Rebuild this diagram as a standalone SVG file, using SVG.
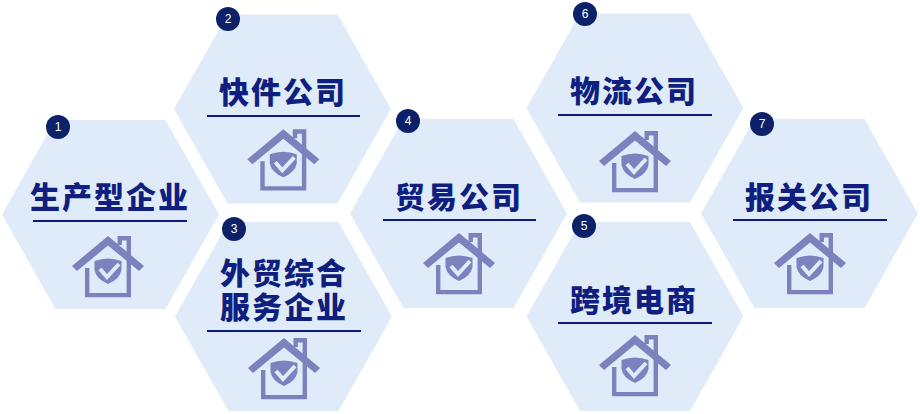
<svg xmlns="http://www.w3.org/2000/svg" xmlns:xlink="http://www.w3.org/1999/xlink" width="920" height="414" viewBox="0 0 920 414">
<style>
.hex{fill:#dfebf8}
.t{font-family:"Noto Sans CJK SC","Liberation Sans",sans-serif;font-weight:900;font-size:30px;letter-spacing:2px;fill:#0f1f80;text-anchor:middle}
.rule{stroke:#0c1a7a;stroke-width:2}
.b{fill:#0d2169}
.n{font-family:"Liberation Sans",sans-serif;font-size:12px;fill:#fff;text-anchor:middle}
.h{fill:#7b82bd}
.hs{fill:none;stroke:#7b82bd;stroke-width:4.400}
.c{fill:none;stroke:#dfebf8;stroke-width:4}
</style>
<defs>
<polygon id="hexagon" class="hex" points="-108.500,0 -55,-94.500 55,-94.500 108.500,0 55,94.500 -55,94.500"/>
<g id="house">
<polygon class="h" points="0,0 36,30 31,35 0,9.500 -31,35 -36,30"/>
<path class="hs" d="M-20.800,32V59.100H20.800V2.200H11.700V9"/>
<path class="h" d="M-13.500,25Q0,20 13.500,25V34Q12,43 0,48Q-12,43 -13.500,34Z"/>
<path class="c" d="M-8,33L-1,41L11,28"/>
</g>
</defs>
<g id="node1"><use xlink:href="#hexagon" x="110.500" y="214.500"/><text class="t" x="110" y="208">生产型企业</text><line class="rule" x1="33" y1="221" x2="187" y2="221"/><use xlink:href="#house" x="108" y="236"/><circle class="b" cx="58" cy="127" r="12"/><text class="n" x="58" y="131">1</text></g>
<g id="node2"><use xlink:href="#hexagon" x="282.500" y="109"/><text class="t" x="283" y="103">快件公司</text><line class="rule" x1="207" y1="116" x2="360" y2="116"/><use xlink:href="#house" x="283.300" y="129.300"/><circle class="b" cx="228" cy="19" r="12"/><text class="n" x="228" y="23">2</text></g>
<g id="node3"><use xlink:href="#hexagon" x="283.500" y="316.500"/><text class="t" x="284" y="284">外贸综合</text><text class="t" x="284" y="318">服务企业</text><line class="rule" x1="207" y1="331" x2="361" y2="331"/><use xlink:href="#house" x="284" y="338"/><circle class="b" cx="234" cy="229" r="12"/><text class="n" x="234" y="233">3</text></g>
<g id="node4"><use xlink:href="#hexagon" x="458.500" y="213.500"/><text class="t" x="459" y="208">贸易公司</text><line class="rule" x1="383" y1="220" x2="536" y2="220"/><use xlink:href="#house" x="459" y="233"/><circle class="b" cx="408" cy="121" r="12"/><text class="n" x="408" y="125">4</text></g>
<g id="node5"><use xlink:href="#hexagon" x="635" y="316.500"/><text class="t" x="634" y="311">跨境电商</text><line class="rule" x1="558" y1="323" x2="712" y2="323"/><use xlink:href="#house" x="635" y="335"/><circle class="b" cx="584" cy="226" r="12"/><text class="n" x="584" y="230">5</text></g>
<g id="node6"><use xlink:href="#hexagon" x="635" y="108"/><text class="t" x="634" y="102">物流公司</text><line class="rule" x1="558" y1="115" x2="712" y2="115"/><use xlink:href="#house" x="635" y="131"/><circle class="b" cx="585" cy="14" r="12"/><text class="n" x="585" y="18">6</text></g>
<g id="node7"><use xlink:href="#hexagon" x="809.500" y="213.500"/><text class="t" x="809" y="208">报关公司</text><line class="rule" x1="733" y1="220" x2="887" y2="220"/><use xlink:href="#house" x="810" y="233"/><circle class="b" cx="762" cy="124" r="12"/><text class="n" x="762" y="128">7</text></g>
<g id="connectors"></g>
</svg>
